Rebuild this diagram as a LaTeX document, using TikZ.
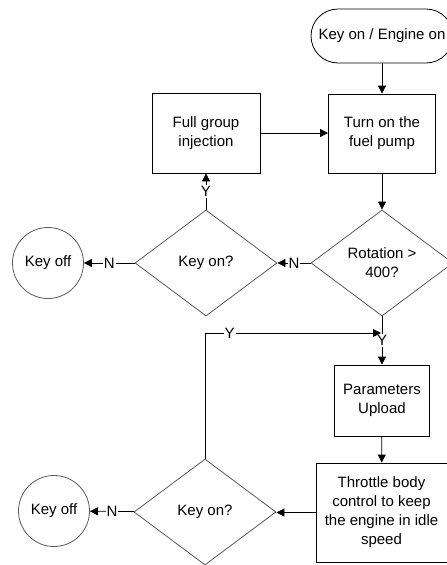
\documentclass[tikz,border=0pt]{standalone}
\usepackage{fontspec}
\setmainfont{Liberation Sans}
\usetikzlibrary{shapes.geometric,arrows.meta}
\begin{document}
\begin{tikzpicture}[x=1pt,y=-1pt,
 every node/.style={font=\fontsize{15}{19}\selectfont, text=black},
 box/.style={draw=black, line width=0.8pt, align=center, inner sep=0pt},
 dec/.style={draw=black!65, line width=0.8pt, diamond, aspect=1.3, inner sep=0pt, minimum width=142pt, minimum height=106pt, align=center},
 endc/.style={draw=black!65, line width=0.8pt, circle, minimum size=71pt, inner sep=0pt},
 conn/.style={draw=black, line width=0.8pt, -{Triangle[length=8pt,width=8pt]}},
 lab/.style={fill=white, inner sep=1pt}]
\useasboundingbox (0,0) rectangle (447,565);
\node[box, rounded corners=27pt, minimum width=142pt, minimum height=54pt] (start) at (382,36) {Key on / Engine on};
\node[box, minimum width=107pt, minimum height=79pt] (pump) at (382,133.5) {Turn on the\\fuel pump};
\node[box, minimum width=108pt, minimum height=80pt] (full) at (206,133) {Full group\\injection};
\node[dec] (rot) at (382,263) {Rotation >\\400?};
\node[dec] (kon1) at (206,263) {Key on?};
\node[endc] (off1) at (48,263) {Key off};
\node[box, minimum width=95pt, minimum height=71pt] (param) at (382,400.5) {Parameters\\Upload};
\node[box, minimum width=131pt, minimum height=99pt] (thr) at (381.5,512.5) {Throttle body\\control to keep\\the engine in idle\\speed};
\node[dec] (kon2) at (205,512) {Key on?};
\node[endc] (off2) at (54,511) {Key off};
\coordinate (join) at (381,333);
\draw[conn] (start) -- (pump);
\draw[conn] (full.east) -- (full.east -| pump.west);
\draw[conn] (pump) -- (rot);
\draw[conn] (rot) -- node[lab]{N} (kon1);
\draw[conn] (kon1) -- node[lab]{N} (off1);
\draw[conn] (kon1.north) -- node[lab]{Y} (kon1.north |- full.south);
\draw[conn] (rot.south) -- node[lab]{Y} (rot.south |- param.north);
\draw[conn] (param) -- (thr);
\draw[conn] (thr.west) -- (thr.west -| kon2.east);
\draw[conn] (kon2) -- node[lab]{N} (off2);
\draw[conn] (kon2.north) |- node[lab, pos=0.57]{Y} (join);
\end{tikzpicture}
\end{document}
